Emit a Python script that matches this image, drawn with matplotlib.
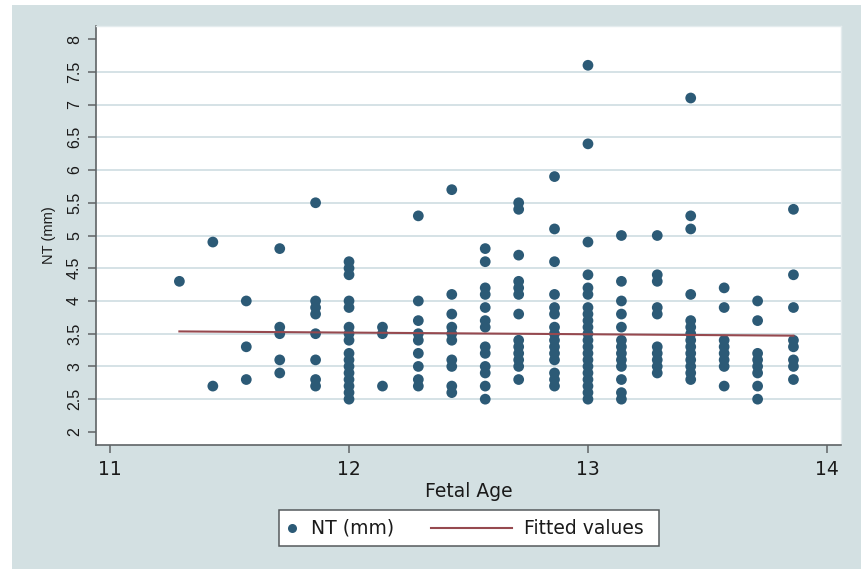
import numpy as np
import matplotlib
matplotlib.use("Agg")
import matplotlib.pyplot as plt
from matplotlib.patches import Rectangle
from matplotlib.lines import Line2D

# ---- data: fetal age (weeks) columns and NT (mm) values ----
ages = [11.29, 11.43, 11.57, 11.71, 11.86, 12.00, 12.14, 12.29, 12.43, 12.57,
        12.71, 12.86, 13.00, 13.14, 13.29, 13.43, 13.57, 13.71, 13.86]

nt_1129 = [4.3]
nt_1143 = [4.9, 2.7]
nt_1157 = [4.0, 3.3, 2.8]
nt_1171 = [4.8, 3.6, 3.5, 3.1, 2.9]
nt_1186 = [5.5, 4.0, 3.9, 3.8, 3.5, 3.1, 2.8, 2.7]
nt_1200 = [4.6, 4.5, 4.4, 4.0, 3.9, 3.6, 3.5, 3.4, 3.2, 3.1, 3.0, 2.9, 2.8, 2.7, 2.6, 2.5]
nt_1214 = [3.6, 3.5, 2.7]
nt_1229 = [5.3, 4.0, 3.7, 3.5, 3.4, 3.2, 3.0, 2.8, 2.7]
nt_1243 = [5.7, 4.1, 3.8, 3.6, 3.5, 3.4, 3.1, 3.0, 2.7, 2.6]
nt_1257 = [4.8, 4.6, 4.2, 4.1, 3.9, 3.7, 3.6, 3.3, 3.2, 3.0, 2.9, 2.7, 2.5]
nt_1271 = [5.5, 5.4, 4.7, 4.3, 4.2, 4.1, 3.8, 3.4, 3.3, 3.2, 3.1, 3.0, 2.8]
nt_1286 = [5.9, 5.1, 4.6, 4.1, 3.9, 3.8, 3.6, 3.5, 3.4, 3.3, 3.2, 3.1, 2.9, 2.8, 2.7]
nt_1300 = [7.6, 6.4, 4.9, 4.4, 4.2, 4.1, 3.9, 3.8, 3.7, 3.6, 3.5, 3.4, 3.3, 3.2,
           3.1, 3.0, 2.9, 2.8, 2.7, 2.6, 2.5]
nt_1314 = [5.0, 4.3, 4.0, 3.8, 3.6, 3.4, 3.3, 3.2, 3.1, 3.0, 2.8, 2.6, 2.5]
nt_1329 = [5.0, 4.4, 4.3, 3.9, 3.8, 3.3, 3.2, 3.1, 3.0, 2.9]
nt_1343 = [7.1, 5.3, 5.1, 4.1, 3.7, 3.6, 3.5, 3.4, 3.3, 3.2, 3.1, 3.0, 2.9, 2.8]
nt_1357 = [4.2, 3.9, 3.4, 3.3, 3.2, 3.1, 3.0, 2.7]
nt_1371 = [4.0, 3.7, 3.2, 3.1, 3.0, 2.9, 2.7, 2.5]
nt_1386 = [5.4, 4.4, 3.9, 3.4, 3.3, 3.1, 3.0, 2.8]

columns = [nt_1129, nt_1143, nt_1157, nt_1171, nt_1186, nt_1200, nt_1214, nt_1229,
           nt_1243, nt_1257, nt_1271, nt_1286, nt_1300, nt_1314, nt_1329, nt_1343,
           nt_1357, nt_1371, nt_1386]

# fitted-values line, end points
fit_x = [11.29, 13.86]
fit_y = [3.535, 3.47]

x_ticks = [11, 12, 13, 14]
y_ticks = [2, 2.5, 3, 3.5, 4, 4.5, 5, 5.5, 6, 6.5, 7, 7.5, 8]
y_tick_labels = ["2", "2.5", "3", "3.5", "4", "4.5", "5", "5.5", "6", "6.5", "7", "7.5", "8"]

x = np.concatenate([[a] * len(c) for a, c in zip(ages, columns)])
y = np.concatenate(columns)

# ---- styling ----
BG = "#d3e0e2"
DOT = "#2c5a76"
FIT = "#96494f"
AXC = "#5f6466"
TXT = "#1a1a1a"
HFONT = ["DejaVu Sans"]          # horizontal texts (wide look)
VFONT = ["Liberation Sans", "DejaVu Sans"]  # rotated texts
plt.rcParams["font.family"] = VFONT

W, H = 862, 569
fig = plt.figure(figsize=(W / 100, H / 100), dpi=100, facecolor="white")
fig.add_artist(Rectangle((12 / W, 0), 1 - 12 / W, 1 - 5 / H, transform=fig.transFigure,
                         facecolor=BG, edgecolor="none", zorder=0))

L, R, T, B = 96, 841, 26, 445
ax = fig.add_axes([L / W, 1 - B / H, (R - L) / W, (B - T) / H])
ax.set_facecolor("white")
ax.set_zorder(1)

ax.scatter(x, y, s=60, color=DOT, edgecolors="none", zorder=3)
ax.plot(fit_x, fit_y, color=FIT, lw=1.5, zorder=4)

ax.set_xlim(10.941, 14.059)
ax.set_ylim(1.80, 8.20)
ax.set_xticks(x_ticks)
ax.set_xticklabels([str(t) for t in x_ticks], fontfamily=HFONT, fontsize=13.5)
ax.set_yticks(y_ticks)
ax.set_yticklabels(y_tick_labels, rotation=90, va="center", fontsize=11.5)

ax.yaxis.grid(True, color="#d5e2e6", lw=1.4, zorder=1)
gl = ax.get_ygridlines()
gl[0].set_visible(False)
gl[-1].set_visible(False)
ax.set_axisbelow(True)

for s in ("left", "bottom"):
    ax.spines[s].set_color(AXC)
    ax.spines[s].set_linewidth(1.2)
for s in ("top", "right"):
    ax.spines[s].set_color("#e4ecee")
    ax.spines[s].set_linewidth(1.0)

ax.tick_params(axis="both", direction="out", length=6, width=1.1, color=AXC,
               labelcolor=TXT)
ax.tick_params(axis="x", pad=5)
ax.tick_params(axis="y", pad=4)

ax.set_xlabel("Fetal Age", fontsize=13.5, fontfamily=HFONT, color=TXT, labelpad=2)
ax.set_ylabel("NT (mm)", fontsize=10.5, color=TXT, labelpad=8)

# ---- legend (drawn in figure pixels) ----
def fx(px):
    return px / W

def fy(py):
    return 1 - py / H

fig.add_artist(Rectangle((fx(279), fy(546)), fx(659) - fx(279), fy(510) - fy(546),
                         transform=fig.transFigure, facecolor="white",
                         edgecolor="#555a5c", lw=1.1, zorder=5))
fig.add_artist(Line2D([fx(292)], [fy(528)], transform=fig.transFigure, marker="o",
                      markersize=6.5, color=DOT, markeredgewidth=0, linestyle="none",
                      zorder=6))
fig.text(fx(311), fy(528), "NT (mm)", fontsize=13.5, fontfamily=HFONT, color=TXT,
         va="center", ha="left", zorder=6)
fig.add_artist(Line2D([fx(431), fx(512)], [fy(528), fy(528)], transform=fig.transFigure,
                      color=FIT, lw=1.5, zorder=6))
fig.text(fx(524), fy(528), "Fitted values", fontsize=13.5, fontfamily=HFONT, color=TXT,
         va="center", ha="left", zorder=6)

fig.savefig("out.png", dpi=100, facecolor="white")
